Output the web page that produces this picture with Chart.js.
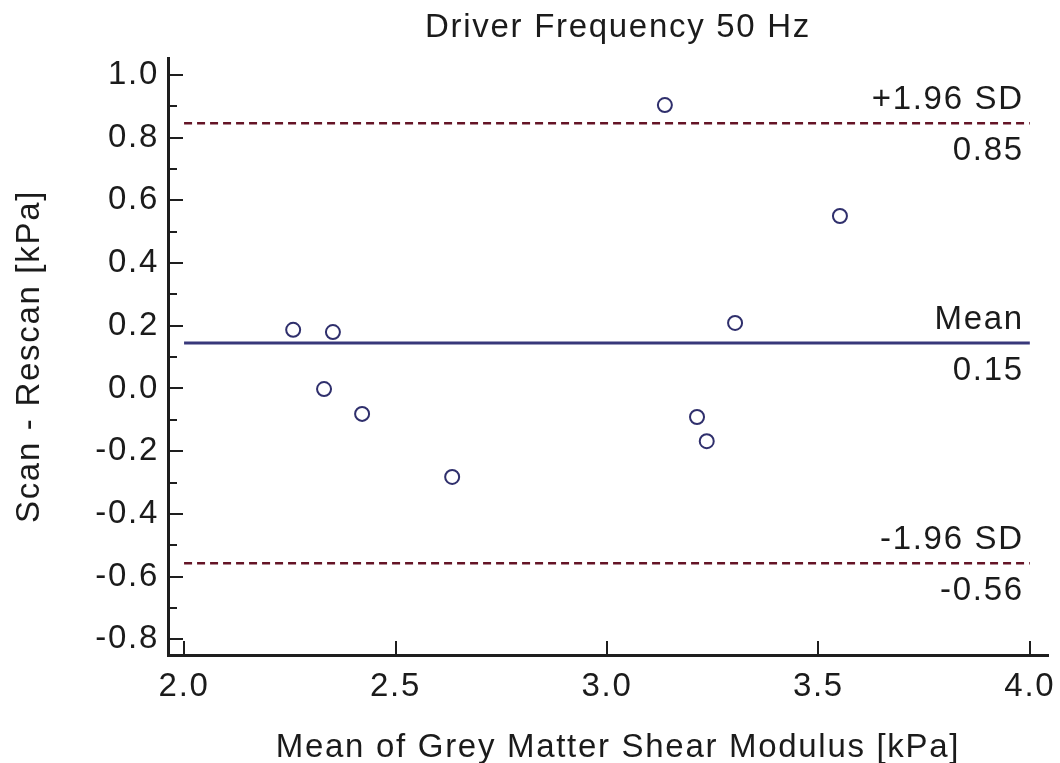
<!DOCTYPE html>
<html>
<head>
<meta charset="utf-8">
<script src="https://cdn.jsdelivr.net/npm/chart.js@4.4.1/dist/chart.umd.min.js"></script>
<style>
  html, body { margin: 0; padding: 0; background: #fff; }
  #chart { display: block; }
</style>
</head>
<body>
<canvas id="chart" width="1060" height="763"></canvas>
<script>
// mean of the two scans (x) and difference scan - rescan (y), kPa
const meanValues = [2.258, 2.352, 2.331, 2.421, 2.634, 3.137, 3.213, 3.236, 3.303, 3.551];
const diffValues = [0.187, 0.180, -0.002, -0.081, -0.282, 0.904, -0.091, -0.168, 0.209, 0.550];

// limits of agreement
const limitNames = ["+1.96 SD", "Mean", "-1.96 SD"];
const limitValues = [0.846, 0.145, -0.557];
const limitLabels = ["0.85", "0.15", "-0.56"];
const limitRange = [2.0, 4.0];

const xTicks = [2.0, 2.5, 3.0, 3.5, 4.0];
const yTicks = [-0.8, -0.6, -0.4, -0.2, 0.0, 0.2, 0.4, 0.6, 0.8, 1.0];
const yMinorTicks = [-0.7, -0.5, -0.3, -0.1, 0.1, 0.3, 0.5, 0.7, 0.9];

const FONT = "'Liberation Sans', Arial, sans-serif";
const SIZE = 33;
const TEXT = "#1b1b1b";
const SPACING = "1.7px";

function spacing(chart) {
    chart.ctx.letterSpacing = SPACING;
}

const letterPlugin = {
    id: "letters",
    beforeUpdate: spacing,
    beforeLayout: spacing,
    beforeDraw: spacing
};

const extrasPlugin = {
    id: "extras",
    afterDraw(chart) {
        const ctx = chart.ctx;
        const x = chart.scales.x;
        const y = chart.scales.y;
        const area = chart.chartArea;
        ctx.save();
        ctx.letterSpacing = SPACING;
        ctx.strokeStyle = "#1e1e1e";
        ctx.lineWidth = 2;

        // inward tick marks
        yTicks.forEach(v => {
            const py = Math.round(y.getPixelForValue(v));
            ctx.beginPath();
            ctx.moveTo(area.left, py);
            ctx.lineTo(area.left + 15, py);
            ctx.stroke();
        });
        yMinorTicks.forEach(v => {
            const py = Math.round(y.getPixelForValue(v));
            ctx.beginPath();
            ctx.moveTo(area.left, py);
            ctx.lineTo(area.left + 9, py);
            ctx.stroke();
        });
        xTicks.forEach(v => {
            const px = Math.round(x.getPixelForValue(v));
            ctx.beginPath();
            ctx.moveTo(px, area.bottom);
            ctx.lineTo(px, area.bottom - 14);
            ctx.stroke();
        });

        // limit labels
        ctx.fillStyle = TEXT;
        ctx.font = SIZE + "px " + FONT;
        ctx.textAlign = "right";
        ctx.textBaseline = "alphabetic";
        const rx = x.getPixelForValue(limitRange[1]) - 6;
        limitValues.forEach((v, i) => {
            const py = y.getPixelForValue(v);
            ctx.fillText(limitNames[i], rx, py - 14);
            ctx.fillText(limitLabels[i], rx, py + 37);
        });

        // title and x axis title
        ctx.textAlign = "center";
        ctx.fillText("Driver Frequency 50 Hz", 618, 37);
        ctx.fillText("Mean of Grey Matter Shear Modulus [kPa]", 618, 757);
        ctx.restore();
    }
};

const lineStyles = [
    { color: "#641426", width: 2.5, dash: [8, 5] },
    { color: "#38387a", width: 3, dash: [] },
    { color: "#641426", width: 2.5, dash: [8, 5] }
];

const limitDatasets = limitValues.map((v, i) => ({
    type: "line",
    label: limitNames[i],
    data: limitRange.map(xv => ({ x: xv, y: v })),
    borderColor: lineStyles[i].color,
    borderWidth: lineStyles[i].width,
    borderDash: lineStyles[i].dash,
    pointRadius: 0,
    fill: false,
    order: 2
}));

const ctx = document.getElementById("chart").getContext("2d");

new Chart(ctx, {
    type: "scatter",
    data: {
        datasets: [
            ...limitDatasets,
            {
                label: "Scan - Rescan",
                data: meanValues.map((m, i) => ({ x: m, y: diffValues[i] })),
                pointRadius: 7,
                pointBorderWidth: 2,
                pointBorderColor: "#2f2f6c",
                pointBackgroundColor: "rgba(255,255,255,0)",
                order: 1
            }
        ]
    },
    options: {
        responsive: false,
        animation: false,
        devicePixelRatio: 1,
        layout: { padding: { left: 0, right: 12, top: 58, bottom: 0 } },
        plugins: {
            legend: { display: false },
            title: { display: false },
            tooltip: { enabled: false }
        },
        scales: {
            x: {
                type: "linear",
                min: 1.962,
                max: 4.043,
                afterFit: s => { s.height = 108; s.paddingLeft = 0; s.paddingRight = 0; },
                afterBuildTicks: s => { s.ticks = xTicks.map(v => ({ value: v })); },
                grid: { display: false, drawTicks: false },
                border: { display: true, color: "#1e1e1e", width: 3 },
                ticks: {
                    padding: 12,
                    color: TEXT,
                    font: { family: FONT, size: SIZE },
                    maxRotation: 0,
                    callback: v => v.toFixed(1)
                },
                title: { display: false }
            },
            y: {
                type: "linear",
                min: -0.85,
                max: 1.054,
                afterFit: s => { s.width = 168; s.paddingTop = 0; s.paddingBottom = 0; },
                afterBuildTicks: s => { s.ticks = yTicks.map(v => ({ value: v })); },
                grid: { display: false, drawTicks: false },
                border: { display: true, color: "#1e1e1e", width: 3 },
                ticks: {
                    padding: 9,
                    color: TEXT,
                    font: { family: FONT, size: SIZE },
                    callback: v => (Math.abs(v) < 1e-9 ? 0 : v).toFixed(1)
                },
                title: {
                    display: true,
                    text: "Scan - Rescan [kPa]",
                    color: TEXT,
                    font: { family: FONT, size: SIZE },
                    padding: { top: 10, bottom: 0 }
                }
            }
        }
    },
    plugins: [letterPlugin, extrasPlugin]
});
</script>
</body>
</html>
